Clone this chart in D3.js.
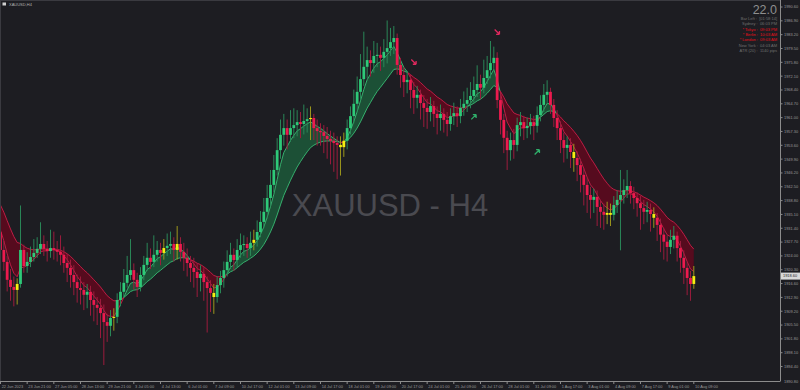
<!DOCTYPE html>
<html><head><meta charset="utf-8">
<script src="https://cdn.jsdelivr.net/npm/d3@7/dist/d3.min.js"></script>
<style>html,body{margin:0;padding:0;background:#1d1d22;overflow:hidden}svg{display:block}</style>
</head><body><svg id="c" width="800" height="390"></svg>
<script>
// ---------- DATA ----------
const symbol = "XAUUSD,H4";
const watermark = "XAUUSD - H4";
const opens = [1930.3,1925.6,1922.4,1917.6,1915.7,1914.9,1916.5,1925.6,1921.3,1922.4,1923.7,1924.8,1925.9,1927.2,1925.9,1925.3,1926.1,1925.6,1925.1,1924.3,1922.1,1920.8,1918.9,1917.0,1915.4,1914.9,1913.6,1914.4,1912.2,1910.9,1910.1,1908.7,1906.3,1905.3,1907.4,1907.7,1912.2,1914.4,1916.8,1918.9,1920.2,1917.6,1915.7,1918.9,1921.6,1923.5,1922.4,1924.3,1925.6,1924.8,1926.1,1926.7,1927.2,1925.6,1927.2,1925.1,1923.5,1922.1,1920.8,1919.7,1918.1,1919.2,1917.0,1915.4,1914.1,1913.0,1916.2,1918.1,1920.2,1922.4,1924.3,1922.9,1925.6,1926.9,1927.2,1926.1,1927.5,1928.3,1930.4,1933.1,1935.8,1939.5,1943.0,1947.0,1952.3,1956.4,1958.2,1956.4,1958.2,1959.0,1959.8,1959.3,1960.1,1960.6,1960.9,1958.2,1957.4,1957.1,1956.1,1955.3,1954.8,1954.2,1953.7,1953.1,1954.8,1958.2,1961.4,1964.7,1967.9,1971.3,1974.6,1976.4,1975.6,1977.5,1977.8,1977.0,1978.6,1979.6,1981.2,1982.3,1975.1,1972.4,1970.5,1971.1,1968.4,1966.3,1967.1,1964.9,1963.6,1962.5,1964.1,1962.0,1960.9,1962.0,1960.4,1959.3,1961.4,1962.2,1961.4,1963.6,1964.7,1965.7,1966.8,1968.4,1970.0,1969.0,1971.6,1973.7,1975.6,1977.0,1965.7,1960.4,1955.6,1952.3,1955.0,1953.7,1959.0,1959.8,1958.2,1958.8,1959.8,1958.8,1961.7,1964.4,1967.1,1967.9,1964.4,1960.9,1958.2,1955.0,1952.9,1953.7,1951.8,1950.2,1948.3,1945.7,1943.0,1940.3,1939.0,1939.8,1937.1,1935.8,1935.0,1935.5,1935.0,1937.6,1939.0,1940.3,1941.6,1942.7,1940.8,1939.5,1938.1,1936.8,1935.8,1936.3,1935.2,1934.2,1932.3,1929.7,1927.8,1926.4,1928.3,1929.4,1926.1,1923.5,1920.8,1918.1,1916.5];
const highs = [1934.0,1928.0,1924.0,1920.5,1918.5,1918.0,1937.5,1927.0,1925.0,1926.5,1928.5,1929.0,1933.0,1929.5,1928.0,1931.0,1930.5,1928.0,1929.5,1926.5,1924.5,1923.0,1921.5,1919.0,1918.5,1917.0,1916.5,1916.0,1914.5,1913.0,1912.5,1911.0,1908.5,1909.5,1910.0,1914.0,1917.0,1920.5,1924.0,1928.5,1922.0,1919.5,1921.0,1924.0,1927.5,1926.0,1929.5,1928.0,1927.5,1928.5,1930.0,1930.5,1929.0,1932.0,1929.0,1927.5,1926.0,1924.0,1923.5,1922.0,1921.5,1921.0,1918.5,1917.5,1916.5,1918.5,1920.0,1922.5,1925.5,1927.5,1926.0,1928.5,1930.0,1929.5,1929.0,1930.5,1931.0,1933.5,1936.0,1939.5,1943.0,1947.0,1951.0,1955.5,1960.5,1962.0,1960.5,1963.0,1963.5,1963.0,1962.5,1964.5,1963.5,1964.0,1962.0,1960.5,1959.5,1959.0,1958.5,1957.5,1957.0,1956.0,1956.0,1957.0,1960.5,1964.0,1968.5,1972.0,1978.0,1984.0,1980.0,1979.0,1981.5,1981.0,1980.0,1982.0,1987.0,1985.0,1985.5,1983.5,1977.0,1974.5,1973.5,1972.5,1970.5,1969.5,1968.5,1967.0,1966.0,1966.5,1965.5,1964.0,1964.5,1963.5,1962.5,1963.5,1965.0,1964.0,1966.0,1968.0,1969.0,1970.5,1972.0,1975.0,1972.5,1976.5,1977.5,1981.5,1980.0,1978.5,1967.5,1962.0,1957.5,1957.0,1958.0,1961.0,1962.5,1961.5,1961.0,1962.0,1961.5,1964.0,1967.0,1970.0,1971.0,1969.0,1966.0,1963.0,1960.0,1957.0,1956.0,1955.5,1954.0,1952.0,1950.0,1947.5,1945.0,1942.5,1942.0,1941.5,1939.0,1938.0,1938.5,1938.0,1940.0,1941.5,1947.0,1944.5,1947.0,1944.0,1942.5,1941.0,1940.0,1939.0,1938.5,1938.0,1937.0,1935.5,1934.0,1931.5,1929.5,1931.0,1932.0,1930.5,1928.0,1925.5,1922.5,1920.0,1921.3];
const lows = [1923.5,1920.0,1914.5,1912.0,1910.5,1911.0,1915.5,1919.5,1919.5,1921.0,1922.5,1923.5,1924.5,1924.0,1922.5,1923.5,1923.0,1922.5,1921.5,1919.5,1917.0,1915.5,1913.5,1911.5,1911.0,1909.5,1910.0,1908.0,1906.5,1905.5,1902.0,1894.8,1901.0,1902.5,1904.0,1906.0,1910.5,1913.0,1915.5,1917.5,1915.0,1913.0,1914.5,1917.5,1920.0,1920.5,1921.0,1922.5,1921.5,1923.0,1924.0,1924.5,1922.5,1923.0,1922.5,1920.0,1918.5,1917.0,1915.5,1913.0,1914.5,1912.0,1903.5,1909.0,1908.5,1911.5,1914.0,1915.5,1918.5,1920.5,1920.0,1921.0,1923.5,1924.0,1923.5,1924.0,1925.5,1926.5,1929.0,1931.5,1934.0,1937.5,1941.0,1945.5,1950.0,1953.5,1952.5,1954.5,1955.5,1956.0,1955.5,1956.5,1957.0,1955.0,1955.0,1953.5,1953.5,1951.5,1950.0,1948.5,1946.5,1944.5,1945.5,1950.5,1952.5,1956.5,1959.5,1962.5,1966.0,1969.5,1971.5,1972.0,1973.0,1974.5,1973.5,1974.5,1975.5,1977.5,1978.0,1972.5,1969.0,1966.5,1967.5,1963.5,1962.0,1963.5,1960.5,1958.5,1958.0,1960.0,1958.5,1956.5,1957.5,1957.0,1956.0,1957.5,1959.0,1958.5,1959.5,1961.5,1962.5,1963.5,1965.0,1966.5,1966.0,1967.5,1970.0,1971.5,1973.5,1963.5,1956.5,1951.5,1947.0,1949.5,1950.0,1952.0,1956.0,1955.0,1955.5,1956.5,1955.0,1957.0,1960.0,1962.5,1964.5,1962.0,1958.5,1955.0,1951.5,1949.0,1950.0,1947.5,1946.5,1944.0,1941.0,1937.5,1935.5,1934.0,1935.5,1932.0,1931.5,1931.0,1932.5,1932.0,1933.5,1935.5,1925.5,1938.0,1939.5,1938.0,1936.5,1934.5,1931.0,1932.5,1933.0,1930.5,1931.5,1928.0,1925.0,1923.0,1922.5,1924.5,1926.0,1922.5,1919.5,1916.5,1913.5,1912.0,1915.2];
const closes = [1925.6,1922.4,1917.6,1915.7,1914.9,1916.5,1925.6,1921.3,1922.4,1923.7,1924.8,1925.9,1927.2,1925.9,1925.3,1926.1,1925.6,1925.1,1924.3,1922.1,1920.8,1918.9,1917.0,1915.4,1914.9,1913.6,1914.4,1912.2,1910.9,1910.1,1908.7,1906.3,1905.3,1907.4,1907.7,1912.2,1914.4,1916.8,1918.9,1920.2,1917.6,1915.7,1918.9,1921.6,1923.5,1922.4,1924.3,1925.6,1924.8,1926.1,1926.7,1927.2,1925.6,1927.2,1925.1,1923.5,1922.1,1920.8,1919.7,1918.1,1919.2,1917.0,1915.4,1914.1,1913.0,1916.2,1918.1,1920.2,1922.4,1924.3,1922.9,1925.6,1926.9,1927.2,1926.1,1927.5,1928.3,1930.4,1933.1,1935.8,1939.5,1943.0,1947.0,1952.3,1956.4,1958.2,1956.4,1958.2,1959.0,1959.8,1959.3,1960.1,1960.6,1960.9,1958.2,1957.4,1957.1,1956.1,1955.3,1954.8,1954.2,1953.7,1953.1,1954.8,1958.2,1961.4,1964.7,1967.9,1971.3,1974.6,1976.4,1975.6,1977.5,1977.8,1977.0,1978.6,1979.6,1981.2,1982.3,1975.1,1972.4,1970.5,1971.1,1968.4,1966.3,1967.1,1964.9,1963.6,1962.5,1964.1,1962.0,1960.9,1962.0,1960.4,1959.3,1961.4,1962.2,1961.4,1963.6,1964.7,1965.7,1966.8,1968.4,1970.0,1969.0,1971.6,1973.7,1975.6,1977.0,1965.7,1960.4,1955.6,1952.3,1955.0,1953.7,1959.0,1959.8,1958.2,1958.8,1959.8,1958.8,1961.7,1964.4,1967.1,1967.9,1964.4,1960.9,1958.2,1955.0,1952.9,1953.7,1951.8,1950.2,1948.3,1945.7,1943.0,1940.3,1939.0,1939.8,1937.1,1935.8,1935.0,1935.5,1935.0,1937.6,1939.0,1940.3,1941.6,1942.7,1940.8,1939.5,1938.1,1936.8,1935.8,1936.3,1935.2,1934.2,1932.3,1929.7,1927.8,1926.4,1928.3,1929.4,1926.1,1923.5,1920.8,1918.1,1916.5,1918.6];
// signal (yellow) bars
const signalBars = [5,34,49,53,64,76,93,102,103,172,182,183,196,208];
// arrows: bar index, price, direction
const arrowBars = [124,149,142,161];
const arrowPrices = [1975.9,1983.9,1961.2,1951.8];
const arrowDirs = ["down","down","up","up"];
// moving-average indicator settings (fast / slow EMA) and their start values
const fastPeriod = 5, slowPeriod = 15;
const fastSeed = 1933.5, slowSeed = 1939.3;
// axis labels
const priceTicks = ["1990.60","1986.90","1983.20","1979.50","1975.80","1972.10","1968.40","1964.70","1961.00","1957.30","1953.60","1949.90","1946.20","1942.50","1938.80","1935.10","1931.40","1927.70","1924.00","1920.30","1916.60","1912.90","1909.20","1905.50","1901.80","1898.10","1894.40"];
const bottomPriceLabel = "1890.80";
const timeLabels = ["22 Jun 2023","23 Jun 21:00","27 Jun 05:00","28 Jun 13:00","29 Jun 21:00","3 Jul 05:00","4 Jul 13:00","6 Jul 01:00","7 Jul 09:00","10 Jul 17:00","12 Jul 01:00","13 Jul 09:00","14 Jul 17:00","18 Jul 01:00","19 Jul 09:00","20 Jul 17:00","24 Jul 01:00","25 Jul 09:00","26 Jul 17:00","28 Jul 01:00","31 Jul 09:00","1 Aug 17:00","3 Aug 01:00","4 Aug 09:00","7 Aug 17:00","9 Aug 01:00","10 Aug 09:00"];
const timeLabelBars = [0,8,16,24,32,40,48,56,64,72,80,88,96,104,112,120,128,136,144,152,160,168,176,184,192,200,208];
// info panel
const spreadValue = "22.0";
const panelLabels = ["Bar Left :","Sydney :","* Tokyo :","* Berlin :","* London :","New York :","ATR (20) :"];
const panelValues = ["[01:58:14]","06:03 PM","09:03 PM","10:03 AM","09:03 AM","04:03 AM","1140 pips"];
const panelActive = [false,false,true,true,true,false,false];

// ---------- DRAW ----------
const svg = d3.select("#c");
const PR = 780, PB = 381;
const x = d3.scaleLinear().domain([0, 208]).range([0.5, 693.8]);
const y = d3.scaleLinear().domain([1890.8, 1990.6]).range([380, 7]);
const n = closes.length;
const C = {bg:"#1d1d22", bull:"#2ec978", bear:"#ec1a4e", sig:"#f7ee10",
  bullWick:"#2a8758", bearWick:"#9c1c3d", sigWick:"#9d971c",
  bullFill:"#1c5036", bearFill:"#560b1e", bullLine:"#39bd75", bearLine:"#cc1d47",
  axis:"#8c8c8c", text:"#9a9a9a"};

svg.append("rect").attr("width",800).attr("height",390).attr("fill",C.bg);

// watermark
svg.append("text").attr("x",390).attr("y",216).attr("text-anchor","middle")
  .attr("font-family","Liberation Sans, Arial, sans-serif").attr("font-size",31)
  .attr("fill","#4a4a50").text(watermark);

// indicator
function ema(vals, period, seed){ const a = 2/(period+1); let e = seed; return vals.map(v => (e = e + a*(v-e))); }
const fast = ema(closes, fastPeriod, fastSeed);
const slow = ema(closes, slowPeriod, slowSeed);

const g = svg.append("g");
const runs = []; let cur = null;
for (let i=0;i<n;i++){
  const up = fast[i] >= slow[i];
  const pt = {x:x(i), f:y(fast[i]), s:y(slow[i])};
  if (!cur){ cur = {up, pts:[pt]}; runs.push(cur); continue; }
  if (up === cur.up){ cur.pts.push(pt); }
  else {
    const d0 = fast[i-1]-slow[i-1], d1 = fast[i]-slow[i];
    const t = d0/(d0-d1);
    const xc = x(i-1+t), yc = y(fast[i-1] + t*(fast[i]-fast[i-1]));
    const cp = {x:xc, f:yc, s:yc};
    cur.pts.push(cp);
    cur = {up, pts:[cp, pt]}; runs.push(cur);
  }
}
const areaGen = d3.area().x(d=>d.x).y0(d=>d.s).y1(d=>d.f);
const lineF = d3.line().x(d=>d.x).y(d=>d.f);
const lineS = d3.line().x(d=>d.x).y(d=>d.s);
runs.forEach(r=>{
  g.append("path").attr("d",areaGen(r.pts)).attr("fill", r.up?C.bullFill:C.bearFill);
});
runs.forEach(r=>{
  const col = r.up?C.bullLine:C.bearLine;
  g.append("path").attr("d",lineS(r.pts)).attr("fill","none").attr("stroke",col).attr("stroke-width",0.9);
  g.append("path").attr("d",lineF(r.pts)).attr("fill","none").attr("stroke",col).attr("stroke-width",0.9);
});

// candles
const idx = d3.range(n);
const kind = i => signalBars.includes(i) ? "sig" : (closes[i] >= opens[i] ? "bull" : "bear");
const cg = svg.append("g");
cg.selectAll("line.w").data(idx).join("line")
  .attr("x1",i=>x(i)).attr("x2",i=>x(i)).attr("y1",i=>y(highs[i])).attr("y2",i=>y(lows[i]))
  .attr("stroke",i=>C[kind(i)+"Wick"]).attr("stroke-width",1);
const bw = 2.8;
cg.selectAll("rect.b").data(idx).join("rect")
  .attr("x",i=>x(i)-bw/2).attr("width",bw)
  .attr("y",i=>y(Math.max(opens[i],closes[i])))
  .attr("height",i=>Math.max(1, Math.abs(y(opens[i])-y(closes[i]))))
  .attr("fill",i=>C[kind(i)]);

// arrows
arrowBars.forEach((b,k)=>{
  const ax = x(b), ay = y(arrowPrices[k]);
  const down = arrowDirs[k]==="down";
  const col = down ? "#e0285e" : "#2fae6a";
  const p = down ? "M-2.5,-2.5 L2,2 M2.3,2.3 L2.3,-1 M2.3,2.3 L-1,2.3" : "M-2.5,2.5 L2,-2 M2.3,-2.3 L2.3,1 M2.3,-2.3 L-1,-2.3";
  svg.append("path").attr("transform",`translate(${ax},${ay})`).attr("d",p)
    .attr("stroke",col).attr("stroke-width",1.3).attr("fill","none");
});

// frame
svg.append("line").attr("x1",PR+0.5).attr("x2",PR+0.5).attr("y1",0).attr("y2",PB).attr("stroke",C.axis).attr("stroke-width",1);
svg.append("line").attr("x1",0).attr("x2",PR+0.5).attr("y1",PB+0.5).attr("y2",PB+0.5).attr("stroke",C.axis).attr("stroke-width",1);
svg.append("line").attr("x1",0.5).attr("x2",0.5).attr("y1",0).attr("y2",PB).attr("stroke","#3a3a40");
svg.append("line").attr("x1",0).attr("x2",PR).attr("y1",0.5).attr("y2",0.5).attr("stroke","#3a3a40");

// price axis
const font = "Liberation Sans, Arial, sans-serif";
const pa = svg.append("g").attr("font-family",font).attr("font-size",3.9).attr("fill",C.text);
priceTicks.forEach(t=>{
  const yy = y(+t);
  pa.append("line").attr("x1",PR).attr("x2",PR+2.5).attr("y1",yy).attr("y2",yy).attr("stroke",C.axis);
  pa.append("text").attr("x",PR+4).attr("y",yy+1.4).text(t);
});
pa.append("text").attr("x",PR+4).attr("y",PB+1.5).text(bottomPriceLabel);
const last = closes[n-1], ly = y(last);
svg.append("rect").attr("x",PR+1).attr("y",ly-3.5).attr("width",19).attr("height",7).attr("fill","#d8d8d8");
svg.append("text").attr("x",PR+3).attr("y",ly+1.4).attr("font-family",font).attr("font-size",3.9).attr("fill","#1d1d22").text(last.toFixed(2));

// time axis
const ta = svg.append("g").attr("font-family",font).attr("font-size",3.9).attr("fill",C.text);
timeLabels.forEach((t,k)=>{
  const xx = x(timeLabelBars[k]);
  ta.append("line").attr("x1",xx).attr("x2",xx).attr("y1",PB).attr("y2",PB+3).attr("stroke",C.axis);
  ta.append("text").attr("x",xx+1.2).attr("y",PB+6.5).text(t);
});

// top-left symbol label
svg.append("rect").attr("x",2.5).attr("y",2.5).attr("width",3.5).attr("height",3).attr("fill","#cfcfcf");
svg.append("text").attr("x",9).attr("y",5.8).attr("font-family",font).attr("font-size",4).attr("fill","#b0b0b0").text(symbol);

// info panel: one text per row (label + value)
svg.append("text").attr("x",777).attr("y",14).attr("text-anchor","end").attr("font-family",font)
  .attr("font-size",12.5).attr("fill","#8e8e8e").text(spreadValue);
panelLabels.forEach((l,k)=>{
  const yy = 20 + k*5.3;
  const col = panelActive[k] ? "#e8101a" : "#707070";
  const t = svg.append("text").attr("x",777).attr("y",yy).attr("text-anchor","end")
    .attr("font-family",font).attr("font-size",4).attr("fill",col).attr("xml:space","preserve");
  t.append("tspan").text(l + "  ");
  t.append("tspan").text(panelValues[k]);
});
</script></body></html>
